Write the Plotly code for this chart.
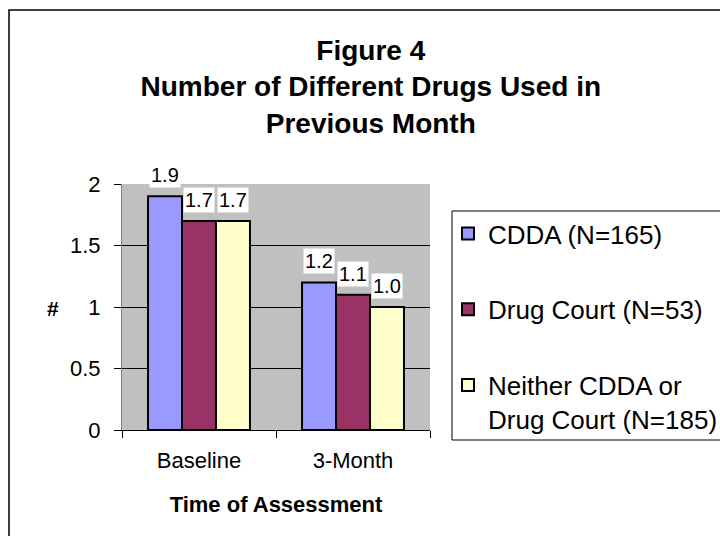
import plotly.graph_objects as go

categories = ["Baseline", "3-Month"]
series_names = ["CDDA (N=165)", "Drug Court (N=53)", "Neither CDDA or<br>Drug Court (N=185)"]
cdda = [1.9, 1.2]
drug_court = [1.7, 1.1]
neither = [1.7, 1.0]
series_values = [cdda, drug_court, neither]
colors = ["#9999FF", "#993366", "#FFFFCC"]
y_ticks = [0, 0.5, 1, 1.5, 2]
y_ticktext = ["0", "0.5", "1", "1.5", "2"]

FONT = "Arial, 'Liberation Sans', sans-serif"

fig = go.Figure()
for i, (name, vals, col) in enumerate(zip(series_names, series_values, colors)):
    fig.add_trace(go.Bar(
        x=categories, y=vals, name=name, legendgroup=f"g{i}",
        marker=dict(color=col, line=dict(color="black", width=2)),
    ))

# value labels with white boxes
bar_px = 34
for i, vals in enumerate(series_values):
    for c, v in zip(categories, vals):
        fig.add_annotation(
            x=c, y=v, xref="x", yref="y", text=f"{v:.1f}", showarrow=False,
            xshift=(i - 1) * bar_px, yshift=8, yanchor="bottom",
            bgcolor="white", borderpad=1,
            font=dict(family=FONT, size=20, color="black"),
        )

L, R, T, B = 122, 290, 184, 106
W, H = 720, 536
pw, ph = W - L - R, H - T - B

def px_x(x):
    return (x - L) / pw

def px_y(y):
    return (H - B - y) / ph

# y-axis title "#"
fig.add_annotation(x=px_x(45), y=px_y(308), xref="paper", yref="paper", text="<b>#</b>",
                   showarrow=False, font=dict(family=FONT, size=21, color="black"))

# outer chart border
fig.add_shape(type="rect", xref="paper", yref="paper",
              x0=px_x(9), x1=px_x(760), y0=px_y(560), y1=px_y(10),
              line=dict(color="black", width=1.5), fillcolor="rgba(0,0,0,0)", layer="below")
# legend box
fig.add_shape(type="rect", xref="paper", yref="paper",
              x0=px_x(452), x1=px_x(760), y0=px_y(440), y1=px_y(211),
              line=dict(color="black", width=1), fillcolor="rgba(0,0,0,0)")

fig.update_layout(
    width=W, height=H,
    margin=dict(l=L, r=R, t=T, b=B, autoexpand=False),
    paper_bgcolor="white", plot_bgcolor="#C0C0C0",
    barmode="group", bargap=0.338, bargroupgap=0,
    font=dict(family=FONT, size=22, color="black"),
    title=dict(text="<b>Figure 4<br>Number of Different Drugs Used in<br>Previous Month</b>",
               x=0.515, xref="container", xanchor="center",
               y=1 - 60 / H, yref="container", yanchor="top",
               font=dict(family=FONT, size=28, color="black")),
    legend=dict(x=px_x(448), y=px_y(210), xanchor="left", yanchor="top",
                xref="paper", yref="paper",
                bgcolor="rgba(0,0,0,0)", borderwidth=0,
                font=dict(family=FONT, size=26, color="black"),
                tracegroupgap=39, valign="top", traceorder="grouped"),
    xaxis=dict(showgrid=False, showline=True, linecolor="black", linewidth=1,
               ticks="outside", ticklen=7, tickcolor="black", tickson="boundaries",
               tickfont=dict(family=FONT, size=22), ticklabelstandoff=11,
               title=dict(text="<b>Time of Assessment</b>", font=dict(family=FONT, size=22), standoff=24)),
    yaxis=dict(range=[0, 2], tickvals=y_ticks, ticktext=y_ticktext,
               showgrid=True, gridcolor="black", gridwidth=1,
               showline=True, linecolor="#808080", linewidth=1,
               ticks="outside", ticklen=7, tickcolor="black", ticklabelstandoff=9,
               tickfont=dict(family=FONT, size=22), zeroline=False),
)

fig.write_html("out.html")
